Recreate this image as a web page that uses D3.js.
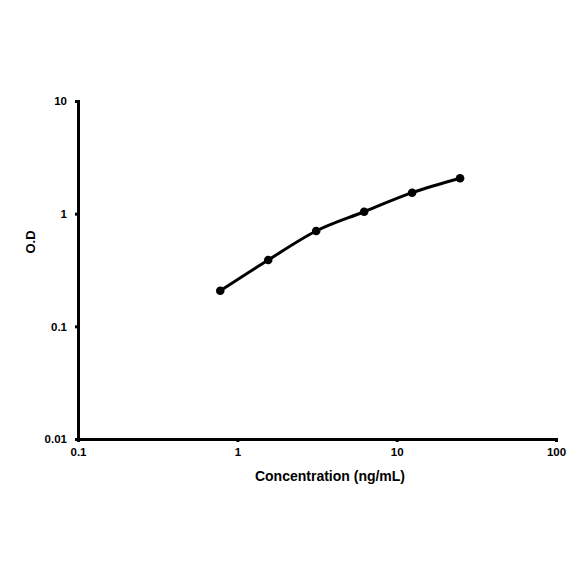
<!DOCTYPE html>
<meta charset="utf-8">
<script src="https://d3js.org/d3.v7.min.js"></script>
<style>
  body { margin: 0; background: #fff; }
  text { font-family: "Liberation Sans", Arial, sans-serif; font-weight: bold; fill: #000; }
</style>
<div id="chart"></div>
<script>

// data
var conc = [0.78125, 1.5625, 3.125, 6.25, 12.5, 25];
var od   = [0.207, 0.388, 0.702, 1.04, 1.535, 2.06];
var xTicks = [0.1, 1, 10, 100];
var yTicks = [0.01, 0.1, 1, 10];

// margins
var margin = {top: 101, right: 28, bottom: 145, left: 78},
    width = 584 - margin.left - margin.right,
    height = 584 - margin.top - margin.bottom;

var svg = d3.select("#chart")
  .append("svg")
    .attr("width", 584)
    .attr("height", 584)
  .append("g")
    .attr("transform", "translate(" + margin.left + "," + margin.top + ")");

// scales
var x = d3.scaleLog().domain([0.1, 100]).range([0, width]);
var y = d3.scaleLog().domain([0.01, 10]).range([height, 0]);

// x axis
var xAxis = svg.append("g")
  .attr("transform", "translate(0," + height + ")")
  .call(d3.axisBottom(x).tickValues(xTicks).tickFormat(d3.format("~g")).tickSize(3).tickPadding(6));

// y axis
var yAxis = svg.append("g")
  .call(d3.axisLeft(y).tickValues(yTicks).tickFormat(d3.format("~g")).tickSize(3).tickPadding(8));

[xAxis, yAxis].forEach(function(a) {
  a.select(".domain").attr("stroke", "#000").attr("stroke-width", 3);
  a.selectAll(".tick line").attr("stroke", "#000").attr("stroke-width", 3);
  a.selectAll(".tick text").style("font-family", "Liberation Sans, Arial, sans-serif")
    .style("font-weight", "bold").style("font-size", "11.5px");
});

// axis labels
svg.append("text")
  .attr("text-anchor", "middle")
  .attr("x", 252)
  .attr("y", height + 42)
  .style("font-size", "14px")
  .text("Concentration (ng/mL)");
svg.append("text")
  .attr("text-anchor", "middle")
  .attr("transform", "translate(-48," + (242 - margin.top) + ") rotate(-90)")
  .attr("dy", "0.35em")
  .style("font-size", "13px")
  .text("O.D");

// line
var pts = conc.map(function(c, i) { return {c: c, v: od[i]}; });

svg.append("path")
  .datum(pts)
  .attr("fill", "none")
  .attr("stroke", "#000")
  .attr("stroke-width", 3)
  .attr("stroke-linejoin", "round")
  .attr("d", d3.line()
    .x(function(d) { return x(d.c); })
    .y(function(d) { return y(d.v); })
    .curve(d3.curveMonotoneX));

svg.selectAll(".pt")
  .data(pts)
  .enter().append("circle")
    .attr("class", "pt")
    .attr("cx", function(d) { return x(d.c); })
    .attr("cy", function(d) { return y(d.v); })
    .attr("r", 4.3)
    .attr("fill", "#000");

</script>
